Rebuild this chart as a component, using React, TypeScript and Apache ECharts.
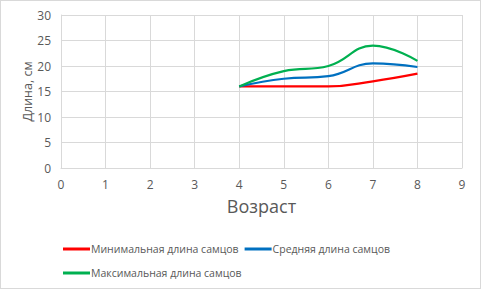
import React, { useEffect, useRef } from "react";
import * as echarts from "echarts";

const ages = [4, 5, 6, 7, 8];
const minLength = [16, 16, 16, 17, 18.5];
const avgLength = [16, 17.5, 18, 20.5, 19.8];
const maxLength = [16, 19, 20, 24, 21];
const seriesNames = [
  "Минимальная длина самцов",
  "Средняя длина самцов",
  "Максимальная длина самцов",
];
const colors = ["#ff0000", "#0070c0", "#00b050"];

export default function App() {
  const ref = useRef<HTMLDivElement>(null);
  useEffect(() => {
    if (!ref.current) return;
    const chart = echarts.init(ref.current, null, { renderer: "svg" });
    const font = "'Open Sans', 'Liberation Sans', sans-serif";
    const mk = (name: string, vals: number[], color: string) => ({
      name,
      type: "line",
      data: ages.map((a, i) => [a, vals[i]]),
      smooth: 0.45,
      showSymbol: false,
      symbol: "none",
      lineStyle: { color, width: 2.2 },
      itemStyle: { color },
    });
    chart.setOption({
      animation: false,
      backgroundColor: "transparent",
      textStyle: { fontFamily: font },
      grid: { left: 61, right: 19, top: 15, bottom: 121, containLabel: false },
      xAxis: {
        type: "value",
        min: 0,
        max: 9,
        interval: 1,
        name: "Возраст",
        nameLocation: "middle",
        nameGap: 29,
        nameTextStyle: { fontSize: 18, color: "#595959", fontFamily: font },
        axisLine: { show: true, lineStyle: { color: "#d9d9d9" } },
        axisTick: { show: false },
        axisLabel: { color: "#595959", fontSize: 12, margin: 10, fontFamily: font },
        splitLine: { show: true, lineStyle: { color: "#d9d9d9" } },
      },
      yAxis: {
        type: "value",
        min: 0,
        max: 30,
        interval: 5,
        name: "Длина, см",
        nameLocation: "middle",
        nameGap: 27,
        nameMoveOverlap: false,
        nameRotate: 90,
        nameTextStyle: { fontSize: 12.5, color: "#595959", fontFamily: font },
        axisLine: { show: true, lineStyle: { color: "#d9d9d9" } },
        axisTick: { show: false },
        axisLabel: { color: "#595959", fontSize: 12, margin: 10, fontFamily: font },
        splitLine: { show: true, lineStyle: { color: "#d9d9d9" } },
      },
      legend: {
        left: 58,
        top: 235,
        width: 360,
        itemWidth: 27,
        itemHeight: 3,
        itemGap: 6,
        icon: "rect",
        textStyle: {
          color: "#595959",
          fontSize: 10.5,
          lineHeight: 18,
          fontFamily: font,
          padding: [0, 0, 0, -4],
        },
        data: seriesNames,
      },
      series: [
        mk(seriesNames[0], minLength, colors[0]),
        mk(seriesNames[1], avgLength, colors[1]),
        mk(seriesNames[2], maxLength, colors[2]),
      ],
    });
    return () => chart.dispose();
  }, []);
  return (
    <div
      style={{
        position: "fixed",
        left: 0,
        top: 0,
        width: 481,
        height: 289,
        boxSizing: "border-box",
        border: "1px solid #d9d9d9",
        background: "#fff",
      }}
    >
      <div ref={ref} style={{ position: "absolute", left: -1, top: -1, width: 481, height: 289 }} />
    </div>
  );
}
